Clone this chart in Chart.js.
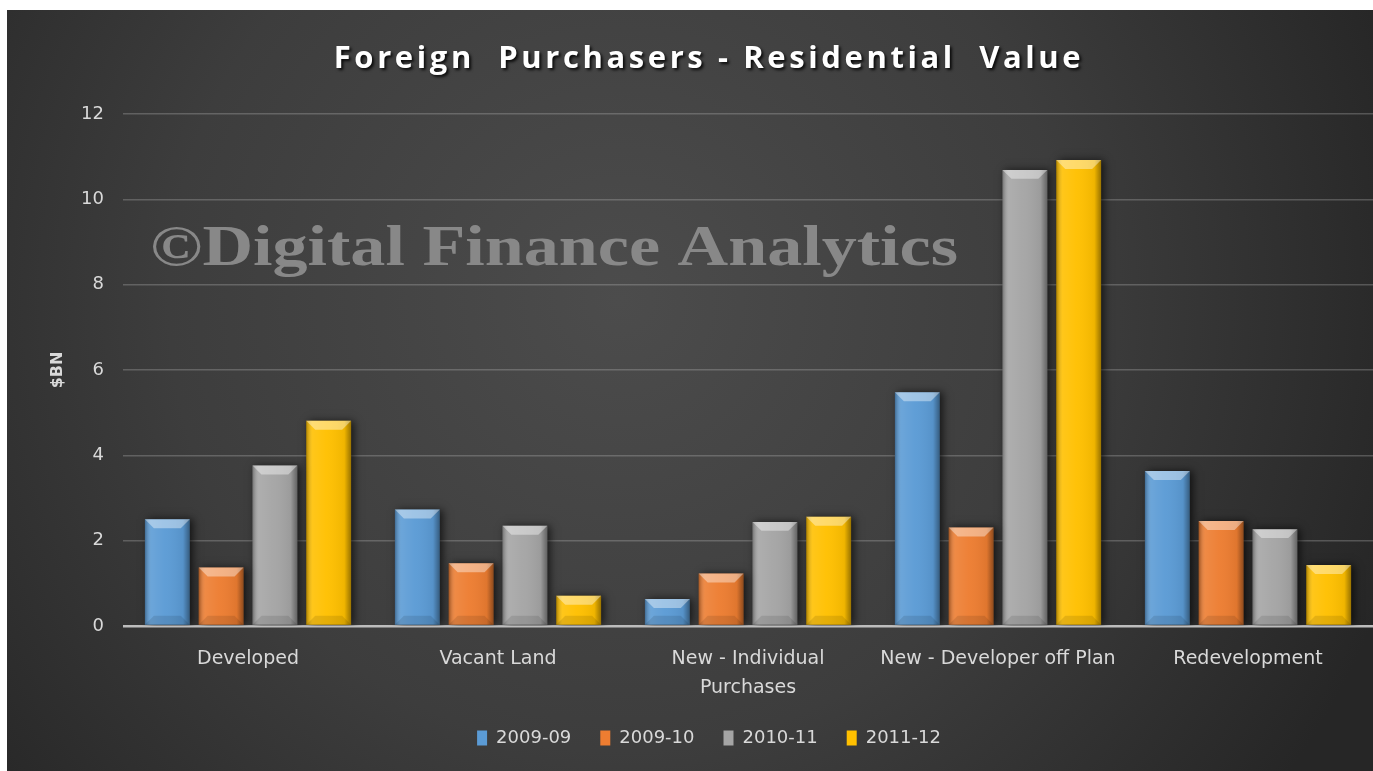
<!DOCTYPE html>
<html><head><meta charset="utf-8">
<script src="https://cdn.jsdelivr.net/npm/chart.js@4.4.1/dist/chart.umd.min.js"></script>
<style>html,body{margin:0;padding:0;background:#fff;overflow:hidden}canvas{display:block}</style>
</head><body>
<canvas id="c" width="1373" height="771"></canvas>
<script>
// ---- data ----
const categories = ['Developed', 'Vacant Land', ['New - Individual', 'Purchases'], 'New - Developer off Plan', 'Redevelopment'];
const seriesLabels = ['2009-09', '2009-10', '2010-11', '2011-12'];
const values200909 = [2.50, 2.73, 0.63, 5.48, 3.63];
const values200910 = [1.37, 1.47, 1.23, 2.31, 2.46];
const values201011 = [3.76, 2.35, 2.44, 10.69, 2.27];
const values201112 = [4.81, 0.71, 2.56, 10.92, 1.43];
const yTicks = [0, 2, 4, 6, 8, 10, 12];
const titleText = 'Foreign  Purchasers - Residential  Value';
const yTitle = '$BN';
const watermarkText = '\u00A9Digital Finance Analytics';

// ---- styles ----
const seriesColors = ['#5b9bd5', '#ed7d31', '#a5a5a5', '#ffc000'];
const textColor = '#d9d9d9';

const allValues = [values200909, values200910, values201011, values201112];

const frame = {
  id: 'frame',
  beforeDraw(chart) {
    const ctx = chart.ctx, W = chart.width, H = chart.height;
    ctx.save();
    ctx.fillStyle = '#ffffff';
    ctx.fillRect(0, 0, W, H);
    const g = ctx.createRadialGradient(620, 300, 0, 620, 300, 820);
    g.addColorStop(0, '#4c4c4c');
    g.addColorStop(0.55, '#3d3d3d');
    g.addColorStop(1, '#262626');
    ctx.fillStyle = g;
    ctx.fillRect(7, 10, W - 7, H - 10);
    ctx.restore();
  },
  beforeDatasetsDraw(chart) {
    const ctx = chart.ctx, ca = chart.chartArea;
    ctx.save();
    ctx.font = 'bold 58px "Liberation Serif", "DejaVu Serif", serif';
    const w = ctx.measureText(watermarkText).width;
    ctx.translate(ca.left + 27, ca.top + 151);
    ctx.scale(808 / w, 1);
    ctx.fillStyle = '#888888';
    ctx.textBaseline = 'alphabetic';
    ctx.fillText(watermarkText, 0, 0);
    ctx.restore();
  },
  beforeDatasetDraw(chart) {
    const ctx = chart.ctx;
    ctx.save();
    ctx.shadowColor = 'rgba(0,0,0,0.65)';
    ctx.shadowBlur = 8;
    ctx.shadowOffsetX = 3;
    ctx.shadowOffsetY = 0;
  },
  afterDatasetDraw(chart, args) {
    const ctx = chart.ctx;
    ctx.restore();
    ctx.save();
    const poly = (pts, fill) => {
      ctx.beginPath();
      ctx.moveTo(pts[0][0], pts[0][1]);
      for (let i = 1; i < pts.length; i++) ctx.lineTo(pts[i][0], pts[i][1]);
      ctx.closePath();
      ctx.fillStyle = fill;
      ctx.fill();
    };
    args.meta.data.forEach(bar => {
      const p = bar.getProps(['x', 'y', 'base', 'width'], true);
      const l = p.x - p.width / 2, r = p.x + p.width / 2;
      const t = Math.min(p.y, p.base), b = Math.max(p.y, p.base);
      const h = b - t;
      const s = Math.min(9, p.width * 0.2, h / 2);
      const g = ctx.createLinearGradient(l, 0, r, 0);
      g.addColorStop(0, 'rgba(0,0,0,0.30)');
      g.addColorStop(0.14, 'rgba(255,255,255,0.10)');
      g.addColorStop(0.45, 'rgba(255,255,255,0.03)');
      g.addColorStop(0.85, 'rgba(0,0,0,0.06)');
      g.addColorStop(1, 'rgba(0,0,0,0.40)');
      ctx.fillStyle = g;
      ctx.fillRect(l, t, r - l, h);
      poly([[l, t], [r, t], [r - s, t + s], [l + s, t + s]], 'rgba(255,255,255,0.40)');
      poly([[l, b], [r, b], [r - s, b - s], [l + s, b - s]], 'rgba(0,0,0,0.10)');
    });
    ctx.restore();
  }
};

const chart = new Chart(document.getElementById('c'), {
  type: 'bar',
  data: {
    labels: categories,
    datasets: seriesLabels.map((lab, i) => ({
      label: lab,
      data: allValues[i],
      backgroundColor: seriesColors[i],
      borderColor: seriesColors[i],
      borderWidth: 0,
      categoryPercentage: 0.8606,
      barPercentage: 0.833
    }))
  },
  options: {
    responsive: false,
    animation: false,
    devicePixelRatio: 1,
    events: [],
    layout: { padding: { left: 40, right: -5, top: 0, bottom: 14 } },
    plugins: {
      title: {
        display: true,
        text: titleText,
        color: '#ffffff',
        font: { family: '"Open Sans", sans-serif', size: 31, weight: 700, lineHeight: 1.2 },
        padding: { top: 41, bottom: 35.8 }
      },
      legend: {
        position: 'bottom',
        labels: {
          color: textColor,
          font: { family: '"DejaVu Sans", sans-serif', size: 18 },
          boxWidth: 10,
          boxHeight: 15,
          padding: 29
        }
      },
      tooltip: { enabled: false }
    },
    scales: {
      x: {
        grid: { display: false },
        border: { display: false },
        ticks: {
          color: textColor,
          font: { family: '"DejaVu Sans", sans-serif', size: 19, lineHeight: 1.5 },
          padding: 11,
          maxRotation: 0,
          autoSkip: false
        },
        afterFit(s) { s.height = 74; }
      },
      y: {
        min: 0,
        max: 12,
        afterBuildTicks(s) { s.ticks = yTicks.map(v => ({ value: v })); },
        border: { display: false },
        grid: {
          drawTicks: false,
          color: ctx => (ctx.tick && ctx.tick.value === 0) ? '#bdbdbd' : 'rgba(200,200,200,0.28)',
          lineWidth: ctx => (ctx.tick && ctx.tick.value === 0) ? 2.5 : 1.5
        },
        ticks: {
          color: textColor,
          font: { family: '"DejaVu Sans", sans-serif', size: 18 },
          padding: 19
        },
        title: {
          display: true,
          text: yTitle,
          color: textColor,
          font: { family: '"DejaVu Sans", sans-serif', size: 16, weight: 'bold', lineHeight: 1.2 },
          padding: { top: 8, bottom: 0 }
        },
        afterFit(s) { s.width = 83; }
      }
    }
  },
  plugins: [frame]
});

// title with letter spacing and shadow
const tb = chart.titleBlock;
if (tb) {
  const origDraw = tb.draw;
  tb.draw = function (...a) {
    const c = this.ctx;
    c.save();
    try { c.letterSpacing = '3.6px'; } catch (e) {}
    c.shadowColor = 'rgba(0,0,0,0.85)';
    c.shadowBlur = 3;
    c.shadowOffsetX = 2;
    c.shadowOffsetY = 2;
    origDraw.apply(this, a);
    c.restore();
  };
  chart.draw();
}
</script>
</body></html>
